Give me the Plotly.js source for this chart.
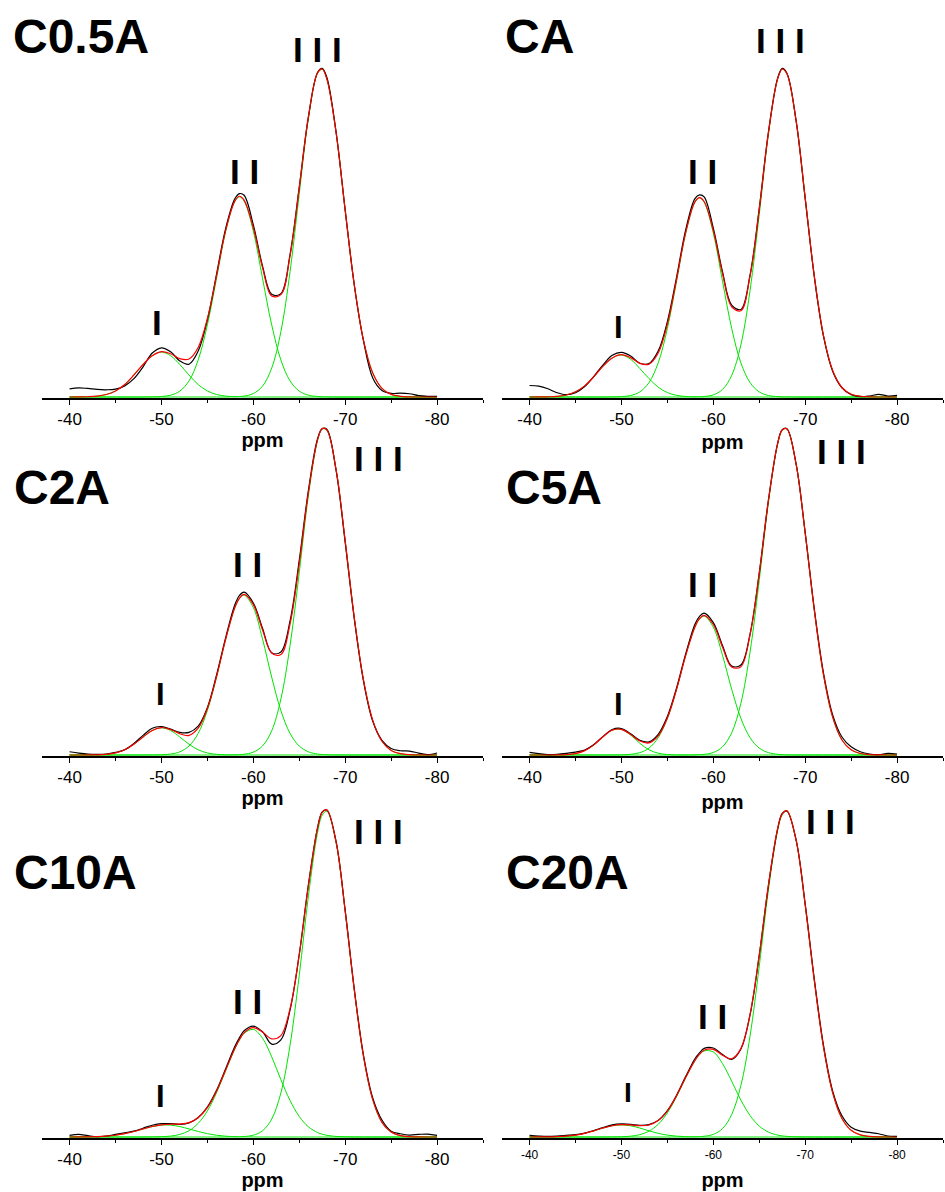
<!DOCTYPE html>
<html><head><meta charset="utf-8">
<script src="https://cdn.plot.ly/plotly-3.0.1.min.js"></script>
<style>html,body{margin:0;padding:0;background:#fff}#chart{width:945px;height:1192px}</style>
</head><body><div id="chart"></div>
<script>
// ---------- data ----------
const ppm = [-40,-41,-42,-43,-44,-45,-46,-47,-48,-49,-50,-51,-52,-53,-54,-55,-56,-57,-58,-58.5,-59,-60,-61,-62,-63,-64,-65,-66,-67,-67.5,-68,-69,-70,-71,-72,-73,-74,-75,-76,-77,-78,-79,-80];
const tickValues = [-40,-50,-60,-70,-80];
const tickLabels = ['-40','-50','-60','-70','-80'];
const sampleNames = ['C0.5A','CA','C2A','C5A','C10A','C20A'];
const peakNames = ['I','I I','I I I'];

// C0.5A
const c05a_exp = [2.5,2.8,2.6,2.3,2.2,2.4,3.4,5.6,9.2,13.4,15.0,13.8,11.0,10.0,14.0,23.5,37.5,51.5,60.5,62.0,61.5,52.5,40.0,31.3,31.5,43.5,64.0,85.5,99.0,100.2,97.5,81.0,57.0,34.0,17.0,5.8,2.0,1.1,1.2,1.0,0.4,0.2,0.2];
const c05a_fit = [0,0.02,0.08,0.27,0.77,1.85,3.8,6.7,9.9,12.6,13.85,13.2,11.7,11.6,15.1,23.85,37.0,50.9,59.8,61.2,60.0,51.6,39.5,30.8,31.2,43.1,63.7,85.5,98.85,100.0,97.0,80.8,56.9,34.0,17.2,7.3,2.65,0.81,0.21,0.05,0,0,0];
const c05a_p1 = [0,0.02,0.08,0.27,0.77,1.85,3.8,6.7,9.9,12.6,13.7,12.6,9.9,6.7,3.8,1.85,0.77,0.27,0.08,0.04,0.02,0,0,0,0,0,0,0,0,0,0,0,0,0,0,0,0,0,0,0,0,0,0];
const c05a_p2 = [0,0,0,0,0,0,0,0,0,0.03,0.15,0.56,1.8,4.9,11.3,22.0,36.2,50.6,59.7,61.0,59.7,50.6,36.2,22.0,11.3,4.9,1.8,0.56,0.15,0.07,0.03,0,0,0,0,0,0,0,0,0,0,0,0];
const c05a_p3 = [0,0,0,0,0,0,0,0,0,0,0,0,0,0,0,0,0,0,0.06,0.14,0.28,1.04,3.3,8.8,19.9,38.2,61.9,84.9,98.7,99.9,97.0,80.8,56.9,34.0,17.2,7.3,2.65,0.81,0.21,0.05,0,0,0];

// CA
const ca_exp = [3.5,3.3,2.5,1.3,0.7,1.3,3.2,6.3,9.8,12.7,13.6,12.5,10.3,10.2,14.0,23.0,36.5,51.0,60.5,61.6,61.0,51.5,38.2,28.0,26.7,37.2,57.5,80.8,97.2,100.2,98.8,84.5,60.5,36.5,18.4,7.8,2.8,0.7,0.1,0.3,0.8,0.3,0.5];
const ca_fit = [0,0.01,0.06,0.2,0.62,1.6,3.4,6.2,9.4,11.9,12.9,12.0,10.25,10.0,13.4,22.2,35.8,50.2,59.5,60.8,59.6,50.7,37.6,27.5,26.3,36.9,57.2,80.6,97.0,100.0,98.6,84.4,60.7,36.7,18.6,8.0,2.9,0.86,0.22,0.05,0,0,0];
const ca_p1 = [0,0.01,0.06,0.2,0.62,1.6,3.4,6.2,9.4,11.9,12.8,11.5,8.7,5.6,3.0,1.34,0.51,0.16,0.04,0.02,0.01,0,0,0,0,0,0,0,0,0,0,0,0,0,0,0,0,0,0,0,0,0,0];
const ca_p2 = [0,0,0,0,0,0,0,0,0,0.03,0.12,0.46,1.55,4.4,10.4,20.9,35.3,50.0,59.4,60.7,59.4,50.0,35.3,20.9,10.4,4.4,1.55,0.46,0.12,0.05,0.03,0,0,0,0,0,0,0,0,0,0,0,0];
const ca_p3 = [0,0,0,0,0,0,0,0,0,0,0,0,0,0,0,0,0,0,0.03,0.08,0.16,0.66,2.3,6.6,15.9,32.5,55.6,80.1,96.9,99.9,98.6,84.4,60.7,36.7,18.6,8.0,2.9,0.86,0.22,0.05,0,0,0];

// C2A
const c2a_exp = [1.0,0.6,0.3,0.2,0.3,0.8,1.6,3.5,6.0,8.2,8.7,7.9,6.9,6.9,8.8,14.5,24.5,36.0,46.0,48.8,49.8,46.5,38.8,31.3,31.5,41.0,59.5,81.0,96.8,99.8,99.6,87.2,65.0,41.5,22.5,10.3,4.5,2.0,1.3,1.2,0.6,0.1,0.6];
const c2a_fit = [0,0,0.01,0.05,0.2,0.63,1.59,3.3,5.5,7.5,8.4,7.8,6.5,6.0,8.2,14.2,24.0,35.55,45.2,48.0,49.1,46.0,38.3,31.2,30.7,40.1,58.5,80.4,96.5,99.85,99.4,87.4,65.5,41.8,22.8,10.6,4.2,1.41,0.4,0.1,0.02,0,0];
const c2a_p1 = [0,0,0.01,0.05,0.2,0.63,1.59,3.3,5.5,7.5,8.3,7.5,5.5,3.3,1.59,0.63,0.2,0.05,0.01,0,0,0,0,0,0,0,0,0,0,0,0,0,0,0,0,0,0,0,0,0,0,0,0];
const c2a_p2 = [0,0,0,0,0,0,0,0,0,0.015,0.07,0.29,0.97,2.74,6.6,13.6,23.8,35.5,45.1,47.9,48.9,45.1,35.5,23.8,13.6,6.6,2.74,0.97,0.29,0.15,0.07,0.015,0,0,0,0,0,0,0,0,0,0,0];
const c2a_p3 = [0,0,0,0,0,0,0,0,0,0,0,0,0,0,0,0,0,0,0.05,0.11,0.23,0.87,2.76,7.4,17.1,33.5,55.8,79.4,96.2,99.7,99.3,87.4,65.5,41.8,22.8,10.6,4.2,1.41,0.4,0.1,0.02,0,0];

// C5A
const c5a_exp = [0.8,0.4,0.1,0.2,0.5,0.9,1.5,3.2,5.7,7.8,8.1,6.5,4.5,4.0,6.3,11.8,20.5,31.0,40.0,42.4,43.4,40.5,33.5,27.2,27.5,37.0,55.6,78.0,95.3,99.5,99.8,89.2,68.0,44.5,25.0,12.2,5.5,2.5,1.0,0.3,0.1,0.5,0.3];
const c5a_fit = [0,0,0,0.02,0.1,0.43,1.33,3.1,5.6,7.6,7.85,6.3,4.3,3.7,5.85,11.3,20.1,30.5,39.15,41.7,42.7,39.9,33.0,26.9,27.0,36.8,55.5,77.9,95.2,99.4,99.75,89.1,67.9,44.1,24.4,11.5,4.6,1.58,0.46,0.11,0.03,0,0];
const c5a_p1 = [0,0,0,0.02,0.1,0.43,1.33,3.1,5.6,7.6,7.8,6.1,3.6,1.6,0.55,0.14,0.03,0,0,0,0,0,0,0,0,0,0,0,0,0,0,0,0,0,0,0,0,0,0,0,0,0,0];
const c5a_p2 = [0,0,0,0,0,0,0,0,0,0,0.05,0.21,0.72,2.1,5.3,11.2,20.1,30.5,39.1,41.6,42.5,39.1,30.5,20.1,11.2,5.3,2.1,0.72,0.21,0.1,0.05,0,0,0,0,0,0,0,0,0,0,0,0];
const c5a_p3 = [0,0,0,0,0,0,0,0,0,0,0,0,0,0,0,0,0,0,0.05,0.1,0.2,0.77,2.5,6.8,15.8,31.5,53.4,77.2,95.0,99.3,99.7,89.1,67.9,44.1,24.4,11.5,4.6,1.58,0.46,0.11,0.03,0,0];

// C10A
const c10a_exp = [0.5,0.8,0.4,0.1,0.3,0.8,1.3,1.8,2.7,3.6,4.1,4.1,3.9,4.3,6.0,9.2,14.3,21.0,27.8,30.5,32.6,34.0,32.3,28.5,29.8,39.0,56.0,77.5,95.0,99.7,100.3,90.8,69.5,45.2,25.0,12.0,5.2,1.8,1.0,0.6,0.8,0.9,0.5];
const c10a_fit = [0,0.01,0.04,0.1,0.25,0.54,1.02,1.69,2.48,3.23,3.73,3.92,3.98,4.4,5.9,9.0,14.1,20.65,27.2,29.9,32.0,33.55,32.2,30.1,31.1,39.4,55.9,77.1,94.9,99.6,100.4,90.6,69.3,44.9,24.6,11.45,4.5,1.5,0.42,0.1,0.02,0,0];
const c10a_p1 = [0,0.01,0.04,0.1,0.25,0.54,1.02,1.69,2.48,3.2,3.64,3.64,3.2,2.48,1.69,1.02,0.54,0.25,0.1,0.06,0.04,0.01,0,0,0,0,0,0,0,0,0,0,0,0,0,0,0,0,0,0,0,0,0];
const c10a_p2 = [0,0,0,0,0,0,0,0,0,0.03,0.09,0.28,0.78,1.92,4.2,8.0,13.6,20.4,27.1,29.8,31.8,33.0,30.3,24.6,17.6,11.2,6.3,3.1,1.36,0.86,0.53,0.18,0.06,0.02,0,0,0,0,0,0,0,0,0];
const c10a_p3 = [0,0,0,0,0,0,0,0,0,0,0,0,0,0,0,0,0,0,0.03,0.06,0.14,0.55,1.89,5.5,13.5,28.2,49.6,74.0,93.5,98.7,99.9,90.4,69.2,44.9,24.6,11.45,4.5,1.5,0.42,0.1,0.02,0,0];

// C20A
const c20a_exp = [0.5,0.3,0.2,0.3,0.5,0.7,1.2,2.0,2.9,3.7,4.0,3.9,3.6,3.8,5.1,8.1,12.8,18.6,24.0,25.8,27.2,27.3,25.3,23.8,27.0,37.5,55.7,77.2,94.5,99.3,100.0,91.3,71.5,48.3,28.0,14.0,6.5,3.0,1.8,1.4,1.0,0.3,0.2];
const c20a_fit = [0,0.01,0.03,0.1,0.26,0.58,1.13,1.9,2.75,3.46,3.78,3.69,3.47,3.68,5.03,7.98,12.66,18.3,23.5,25.4,26.6,26.9,25.1,24.0,27.1,37.6,55.8,77.3,94.6,99.15,100.1,91.2,71.2,47.8,27.5,13.5,5.7,2.07,0.64,0.17,0.04,0,0];
const c20a_p1 = [0,0.01,0.03,0.1,0.26,0.58,1.13,1.9,2.75,3.44,3.7,3.44,2.75,1.9,1.13,0.58,0.26,0.1,0.03,0.02,0.01,0,0,0,0,0,0,0,0,0,0,0,0,0,0,0,0,0,0,0,0,0,0];
const c20a_p2 = [0,0,0,0,0,0,0,0,0,0.02,0.08,0.25,0.72,1.78,3.9,7.4,12.4,18.2,23.4,25.3,26.4,26.1,22.5,17.1,11.3,6.6,3.36,1.5,0.59,0.35,0.2,0.06,0.02,0,0,0,0,0,0,0,0,0,0];
const c20a_p3 = [0,0,0,0,0,0,0,0,0,0,0,0,0,0,0,0,0,0,0.05,0.11,0.23,0.82,2.57,6.9,15.8,31.0,52.4,75.8,94.0,98.8,99.9,91.1,71.2,47.8,27.5,13.5,5.7,2.07,0.64,0.17,0.04,0,0];

// ---------- layout (pixels) ----------
const W = 945, H = 1192;
const FONT = 'Liberation Sans, Arial, sans-serif';
const colSpan = [[42, 483], [502, 943]];
const rowBase = [397, 755, 1137];
const rowScale = [3.28, 3.27, 3.26]; // px per unit
const YMAX = 105;

const panels = [
  {exp: c05a_exp, fit: c05a_fit, comps: [c05a_p1, c05a_p2, c05a_p3], col: 0, row: 0, tick: 17, standoff: 2,
   label: [81, 36], peaks: [[157, 322, 35], [244, 172, 35], [317, 50, 35]]},
  {exp: ca_exp, fit: ca_fit, comps: [ca_p1, ca_p2, ca_p3], col: 1, row: 0, tick: 17, standoff: 7,
   label: [539, 36], peaks: [[618, 327, 31], [702, 172, 35], [780, 41, 35]]},
  {exp: c2a_exp, fit: c2a_fit, comps: [c2a_p1, c2a_p2, c2a_p3], col: 0, row: 1, tick: 17, standoff: 3,
   label: [61.5, 487], peaks: [[160, 694, 31], [247, 564, 35], [378, 458, 35]]},
  {exp: c5a_exp, fit: c5a_fit, comps: [c5a_p1, c5a_p2, c5a_p3], col: 1, row: 1, tick: 17, standoff: 9,
   label: [553.5, 487], peaks: [[618, 704, 31], [702, 584, 35], [841, 452, 35]]},
  {exp: c10a_exp, fit: c10a_fit, comps: [c10a_p1, c10a_p2, c10a_p3], col: 0, row: 2, tick: 17, standoff: 0,
   label: [75.5, 872], peaks: [[160, 1096, 31], [248, 1001, 35], [378, 831, 35]]},
  {exp: c20a_exp, fit: c20a_fit, comps: [c20a_p1, c20a_p2, c20a_p3], col: 1, row: 2, tick: 12, standoff: 12,
   label: [567.5, 872], peaks: [[628, 1092, 28], [712, 1016, 35], [830, 821, 35]]}
];

const traces = [];
const layout = {
  width: W, height: H,
  margin: {l: 0, r: 0, t: 0, b: 0},
  paper_bgcolor: '#ffffff', plot_bgcolor: 'rgba(0,0,0,0)',
  showlegend: false,
  font: {family: FONT, color: '#000'},
  annotations: []
};

panels.forEach((p, i) => {
  const n = i + 1;
  const xa = 'x' + (n === 1 ? '' : n), ya = 'y' + (n === 1 ? '' : n);
  const base = rowBase[p.row], sc = rowScale[p.row];
  const yBottomPx = base + 1;
  const yMin = -1 / sc;
  const yTopPx = base - YMAX * sc;
  const [x0, x1] = colSpan[p.col];

  p.comps.forEach(c => traces.push({x: ppm, y: c, xaxis: xa, yaxis: ya, type: 'scatter', mode: 'lines',
    line: {color: '#00e400', width: 1, shape: 'spline', smoothing: 1}, hoverinfo: 'skip'}));
  traces.push({x: ppm, y: p.exp, xaxis: xa, yaxis: ya, type: 'scatter', mode: 'lines', name: sampleNames[i] + ' exp',
    line: {color: '#000000', width: 1.2, shape: 'spline', smoothing: 1}});
  traces.push({x: ppm, y: p.fit, xaxis: xa, yaxis: ya, type: 'scatter', mode: 'lines', name: sampleNames[i] + ' fit',
    line: {color: '#ff0000', width: 1.2, shape: 'spline', smoothing: 1}});

  layout['xaxis' + (n === 1 ? '' : n)] = {
    domain: [x0 / W, x1 / W], anchor: ya, range: [-37, -85],
    tickmode: 'array', tickvals: tickValues, ticktext: tickLabels,
    ticks: 'outside', ticklen: 5, tickwidth: 1, tickcolor: '#000',
    minor: {ticks: 'outside', ticklen: 3, tickwidth: 1, tickcolor: '#000', dtick: 5, tick0: -45, showgrid: false},
    showline: true, linecolor: '#000', linewidth: 1.5, layer: 'below traces',
    showgrid: false, zeroline: false, fixedrange: true,
    tickfont: {family: FONT, size: p.tick, color: '#000'},
    title: {text: '<b>ppm</b>', font: {family: FONT, size: 20, color: '#000'}, standoff: p.standoff}
  };
  layout['yaxis' + (n === 1 ? '' : n)] = {
    domain: [1 - yBottomPx / H, 1 - yTopPx / H], anchor: xa, range: [yMin, YMAX],
    visible: false, fixedrange: true
  };

  layout.annotations.push({xref: 'paper', yref: 'paper', x: p.label[0] / W, y: 1 - p.label[1] / H,
    xanchor: 'center', yanchor: 'middle', showarrow: false, text: '<b>' + sampleNames[i] + '</b>',
    font: {family: FONT, size: 48, color: '#000'}});
  p.peaks.forEach((pk, k) => layout.annotations.push({xref: 'paper', yref: 'paper', x: pk[0] / W, y: 1 - pk[1] / H,
    xanchor: 'center', yanchor: 'middle', showarrow: false, text: '<b>' + peakNames[k] + '</b>',
    font: {family: FONT, size: pk[2], color: '#000'}}));
});

Plotly.newPlot('chart', traces, layout, {staticPlot: true, displayModeBar: false});
</script>
</body></html>
